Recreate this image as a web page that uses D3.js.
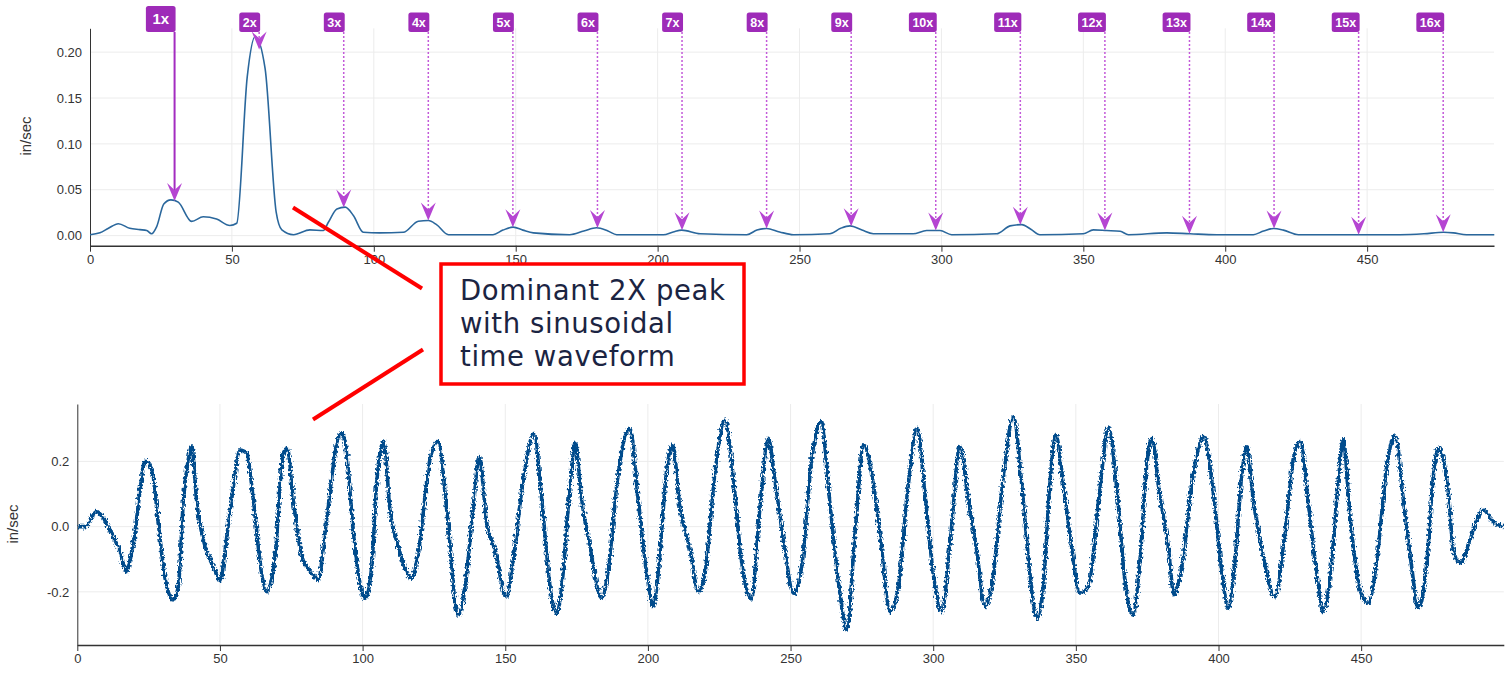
<!DOCTYPE html>
<html>
<head>
<meta charset="utf-8">
<script src="https://cdn.jsdelivr.net/npm/d3@7"></script>
<style>
  body { margin: 0; background: #fff; }
  svg { display: block; font-family: "Liberation Sans", Arial, sans-serif; }
  .axis text { fill: #333; font-size: 13px; }
  .axis path, .axis line { stroke: #333; }
</style>
</head>
<body>
<svg id="chart" width="1511" height="675"></svg>
<script>
// spectrum (top panel): frequency vs amplitude, in/sec
const specFreq = [0, 3.5, 6.5, 10, 14, 17.6, 20, 21.7, 23.5, 26, 28.5, 31.1, 35.8, 39.9, 44.6, 49.3, 51.7,
  55.4, 58.2, 61.7, 65.6, 67.6, 71.7, 77.5, 82.2, 84, 87, 89.9, 92.8, 96.3, 102, 110.4, 115.7, 119.2,
  122.1, 126.3, 142, 145.5, 149.1, 152.5, 156.2, 169, 174, 178.5, 182.5, 185.6, 202, 205.5, 208.5, 215,
  231.4, 235, 238.4, 243, 247.8, 260.7, 264.5, 267.8, 272, 276, 290, 294.8, 299.5, 303.6, 319.4, 324.2,
  328.3, 331.5, 334.7, 350, 353.5, 358.2, 363, 365.9, 379.4, 387.6, 397, 409.9, 413.5, 417, 420.5, 425.8,
  461.6, 470, 476.9, 480.4, 485, 494.8];
const specAmp = [0.001, 0.003, 0.008, 0.013, 0.008, 0.0065, 0.0055, 0.002, 0.0098, 0.0345, 0.039, 0.0365,
  0.0155, 0.0205, 0.018, 0.011, 0.0135, 0.173, 0.217, 0.182, 0.0255, 0.0062, 0.001, 0.0062, 0.0055, 0.0146,
  0.029, 0.031, 0.0219, 0.0036, 0.003, 0.0036, 0.0157, 0.0164, 0.012, 0.001, 0.001, 0.006, 0.0092, 0.006,
  0.003, 0.001, 0.005, 0.0085, 0.005, 0.001, 0.001, 0.004, 0.006, 0.002, 0.001, 0.006, 0.0078, 0.004, 0.001,
  0.002, 0.008, 0.0106, 0.006, 0.002, 0.002, 0.0055, 0.0055, 0.001, 0.002, 0.0106, 0.012, 0.007, 0.001,
  0.002, 0.0062, 0.0055, 0.0047, 0.001, 0.003, 0.002, 0.001, 0.001, 0.005, 0.0078, 0.006, 0.001, 0.001,
  0.002, 0.0036, 0.003, 0.001, 0.001];

// running speed markers
const runSpeed = 29.8;
const harmonics = [1, 2, 3, 4, 5, 6, 7, 8, 9, 10, 11, 12, 13, 14, 15, 16];

// time waveform (bottom panel): peaks, troughs and shoulders
const waveT = [0, 2.7, 6.8, 9.1, 12.6, 15, 17.3, 18.7, 20.2, 22, 23.7, 25.2, 26.6, 28.4, 30.7, 33.6, 35.4,
  37.2, 38.9, 40.1, 41.9, 44.8, 47.5, 50.3, 51.5, 54.7, 57, 59.4, 61.7, 64.6, 66.4, 69.3, 72.2, 73.6, 75.7,
  78.7, 82.2, 84.5, 86.8, 89.7, 90.9, 92.7, 94.4, 96.7, 98.5, 100.8, 103.2, 104.9, 107.4, 109.6, 112.5,
  117.2, 119.5, 123.6, 126.5, 129.5, 133.5, 135.9, 138.8, 140.9, 143.5, 146.4, 150.3, 152.8, 156.3, 160.1,
  162.8, 165.7, 168, 169.8, 172.7, 174.5, 176.8, 179.7, 183.8, 186.1, 189.6, 193.7, 196.6, 199.6, 201.9,
  203.6, 206.6, 208.7, 211.2, 214.8, 217.7, 220, 223.5, 227, 229.9, 232.6, 236.2, 239.3, 242.2, 244.5, 248,
  251, 253.9, 257.4, 260.7, 263.8, 267.3, 269.7, 272.6, 275.7, 278.4, 281.3, 284.9, 287.8, 291.3, 294.4,
  297.1, 300, 303, 305.9, 309.4, 312.3, 315.2, 318.2, 320.5, 324.6, 328.1, 331, 333.9, 336.3, 338.6, 340.9,
  343, 345.6, 348.5, 351.4, 354.4, 358.5, 361.4, 364.3, 367.2, 369.9, 372.5, 374.8, 376.6, 379.3, 382.4,
  384.4, 387.1, 391.2, 394.9, 398.2, 401.1, 403.4, 405.8, 408.1, 409.9, 412.2, 415.7, 419.8, 423.3, 426.2,
  428.6, 431.5, 434.4, 436.7, 439.7, 442, 443.7, 446.1, 449.6, 452.5, 455.5, 459, 461.9, 464.8, 467.7, 470,
  473, 475.3, 477, 480.6, 482.3, 484.6, 488.2, 490.5, 492.8, 496.3, 499.7];
const waveV = [0, 0, 0.046, 0.026, -0.031, -0.077, -0.138, -0.092, -0.02, 0.113, 0.2, 0.194, 0.153, 0.01,
  -0.153, -0.225, -0.184, 0.082, 0.205, 0.245, 0.072, -0.061, -0.12, -0.166, -0.092, 0.123, 0.235, 0.225,
  0.082, -0.143, -0.2, -0.092, 0.225, 0.24, 0.082, -0.092, -0.143, -0.163, -0.02, 0.184, 0.256, 0.288,
  0.225, -0.01, -0.143, -0.22, -0.123, 0.133, 0.261, 0.051, -0.061, -0.158, -0.082, 0.205, 0.261, 0.051,
  -0.271, -0.184, 0.061, 0.215, 0.01, -0.071, -0.215, -0.102, 0.143, 0.286, 0.082, -0.184, -0.266, -0.184,
  0.123, 0.256, 0.082, -0.061, -0.22, -0.133, 0.164, 0.302, 0.082, -0.143, -0.245, -0.143, 0.174, 0.251,
  0.061, -0.071, -0.2, -0.143, 0.164, 0.327, 0.153, -0.092, -0.222, 0.061, 0.271, 0.143, -0.071, -0.204,
  -0.123, 0.205, 0.322, 0.072, -0.204, -0.317, -0.02, 0.251, 0.164, -0.02, -0.261, -0.184, 0.133, 0.302,
  0.102, -0.143, -0.261, -0.051, 0.245, 0.082, -0.071, -0.245, -0.184, 0.153, 0.337, 0.133, -0.143, -0.281,
  -0.184, 0.133, 0.281, 0.133, -0.061, -0.204, -0.184, 0.123, 0.305, 0.123, -0.163, -0.271, -0.102, 0.184,
  0.271, 0.102, -0.061, -0.209, -0.123, 0.164, 0.276, 0.102, -0.133, -0.25, -0.102, 0.153, 0.245, 0.082,
  -0.092, -0.215, -0.02, 0.205, 0.261, 0.072, -0.143, -0.261, -0.102, 0.143, 0.266, 0.031, -0.194, -0.235,
  -0.102, 0.184, 0.281, 0.082, -0.123, -0.25, -0.112, 0.153, 0.24, 0.102, -0.071, -0.112, -0.041, 0.02,
  0.051, 0.015, 0];

const specTicksY = [0, 0.05, 0.1, 0.15, 0.2];
const xTicks = [0, 50, 100, 150, 200, 250, 300, 350, 400, 450];
const waveTicksY = [-0.2, 0, 0.2];
const noteLines = ['Dominant 2X peak', 'with sinusoidal', 'time waveform'];

const svg = d3.select('#chart');

// rough edge for the raw (noisy) time signal trace
const rough = svg.append('defs').append('filter').attr('id', 'rough')
  .attr('x', '-2%').attr('y', '-10%').attr('width', '104%').attr('height', '120%');
rough.append('feTurbulence').attr('type', 'fractalNoise').attr('baseFrequency', '0.6 0.35')
  .attr('numOctaves', 2).attr('seed', 3).attr('result', 'n');
rough.append('feDisplacementMap').attr('in', 'SourceGraphic').attr('in2', 'n')
  .attr('scale', 6).attr('xChannelSelector', 'R').attr('yChannelSelector', 'G');

// ---------- top: spectrum ----------
const x1 = d3.scaleLinear().domain([0, 494.7]).range([90, 1494]);
const y1 = d3.scaleLinear().domain([-0.011, 0.226]).range([245.7, 28.3]);

const specG = svg.append('g');
specG.append('g').selectAll('line').data(specTicksY).join('line')
  .attr('x1', 90).attr('x2', 1494).attr('y1', d => y1(d)).attr('y2', d => y1(d))
  .attr('stroke', '#ececec');
specG.append('g').selectAll('line').data(xTicks.slice(1)).join('line')
  .attr('x1', d => x1(d)).attr('x2', d => x1(d)).attr('y1', 28.3).attr('y2', 245.7)
  .attr('stroke', '#ececec');

specG.append('g').attr('class', 'axis').attr('transform', 'translate(0,245.7)')
  .call(d3.axisBottom(x1).tickValues(xTicks).tickSize(6).tickSizeOuter(0).tickPadding(3))
  .call(g => g.select('.domain').attr('stroke-width', 1.5));
specG.append('g').attr('class', 'axis').attr('transform', 'translate(90,0)')
  .call(d3.axisLeft(y1).tickValues(specTicksY).tickSize(0).tickPadding(8).tickFormat(d => d.toFixed(2)))
  .call(g => g.select('.domain').attr('stroke', '#555'));
specG.append('text').attr('transform', 'translate(31,136) rotate(-90)')
  .attr('text-anchor', 'middle').attr('fill', '#333').attr('font-size', 15).text('in/sec');

const spec = specFreq.map((f, i) => [f, specAmp[i]]);
specG.append('path').datum(spec)
  .attr('fill', 'none').attr('stroke', '#2a679c').attr('stroke-width', 1.6)
  .attr('d', d3.line().x(d => x1(d[0])).y(d => y1(d[1])).curve(d3.curveMonotoneX));

// harmonic markers
function ampAt(f) {
  const i = d3.bisectRight(specFreq, f);
  if (i <= 0) return specAmp[0];
  if (i >= specFreq.length) return specAmp[specAmp.length - 1];
  const t = (f - specFreq[i - 1]) / (specFreq[i] - specFreq[i - 1]);
  return specAmp[i - 1] + t * (specAmp[i] - specAmp[i - 1]);
}
const marks = specG.append('g').selectAll('g').data(harmonics).join('g')
  .attr('transform', d => `translate(${x1(d * runSpeed)},0)`);
marks.append('line')
  .attr('x1', 0).attr('x2', 0).attr('y1', 32).attr('y2', d => y1(ampAt(d * runSpeed)) - 10)
  .attr('stroke', d => d === 1 ? '#a32cc0' : '#c35ad9')
  .attr('stroke-width', d => d === 1 ? 2 : 1.5)
  .attr('stroke-dasharray', d => d === 1 ? null : '2,2');
marks.append('path')
  .attr('d', d => {
    const yt = y1(ampAt(d * runSpeed));
    return `M0,${yt} L-7.5,${yt - 18} L0,${yt - 11} L7.5,${yt - 18} Z`;
  })
  .attr('fill', '#b545d2');
marks.each(function (d) {
  const g = d3.select(this);
  const big = d === 1;
  const h = big ? 26 : 19.5;
  const fs = big ? 15 : 12.5;
  const t = g.append('text').text(d + 'x').attr('font-size', fs).attr('font-weight', 'bold')
    .attr('fill', '#fff').attr('text-anchor', 'middle');
  const w = t.node().getComputedTextLength() + (big ? 13 : 7);
  g.insert('rect', 'text')
    .attr('x', -w + 1).attr('y', 32 - h).attr('width', w).attr('height', h)
    .attr('rx', 2.5).attr('fill', '#9e2bb8');
  t.attr('x', -w / 2 + 1).attr('y', 32 - h / 2 + fs * 0.36);
});

// ---------- bottom: time waveform ----------
const x2 = d3.scaleLinear().domain([0, 500]).range([77.3, 1503.8]);
const y2 = d3.scaleLinear().domain([-0.363, 0.376]).range([645, 404]);

const waveG = svg.append('g');
waveG.append('g').selectAll('line').data(waveTicksY).join('line')
  .attr('x1', 77.3).attr('x2', 1503.8).attr('y1', d => y2(d)).attr('y2', d => y2(d))
  .attr('stroke', '#ececec');
waveG.append('g').selectAll('line').data(xTicks.slice(1)).join('line')
  .attr('x1', d => x2(d)).attr('x2', d => x2(d)).attr('y1', 404).attr('y2', 645)
  .attr('stroke', '#ececec');

waveG.append('g').attr('class', 'axis').attr('transform', 'translate(0,645)')
  .call(d3.axisBottom(x2).tickValues(xTicks).tickSize(6).tickSizeOuter(0).tickPadding(3))
  .call(g => g.select('.domain').attr('stroke-width', 1.5));
waveG.append('g').attr('class', 'axis').attr('transform', 'translate(77.3,0)')
  .call(d3.axisLeft(y2).tickValues(waveTicksY).tickSize(0).tickPadding(8).tickFormat(d => d.toFixed(1)))
  .call(g => g.select('.domain').attr('stroke', '#555'));
waveG.append('text').attr('transform', 'translate(18,524) rotate(-90)')
  .attr('text-anchor', 'middle').attr('fill', '#333').attr('font-size', 15).text('in/sec');

const wave = waveT.map((t, i) => [t, waveV[i]]);
waveG.append('path').datum(wave)
  .attr('fill', 'none').attr('stroke', '#054b8c').attr('stroke-width', 3.6)
  .attr('stroke-linejoin', 'round').attr('filter', 'url(#rough)')
  .attr('d', d3.line().x(d => x2(d[0])).y(d => y2(d[1])).curve(d3.curveMonotoneX));

// ---------- annotation ----------
const note = svg.append('g');
note.append('line').attr('x1', 293).attr('y1', 207.5).attr('x2', 422).attr('y2', 288.5)
  .attr('stroke', '#f00').attr('stroke-width', 4);
note.append('line').attr('x1', 423).attr('y1', 349.5).attr('x2', 313).attr('y2', 419.5)
  .attr('stroke', '#f00').attr('stroke-width', 4);
note.append('rect').attr('x', 441).attr('y', 264).attr('width', 303).attr('height', 120)
  .attr('fill', '#fff').attr('stroke', '#f00').attr('stroke-width', 3.5);
note.selectAll('text').data(noteLines).join('text')
  .attr('x', 460).attr('y', (d, i) => 300 + i * 33)
  .attr('font-family', '"DejaVu Sans", "Noto Sans", sans-serif').attr('font-size', 27.5)
  .attr('letter-spacing', 0.6).attr('fill', '#1b2442').text(d => d);
</script>
</body>
</html>
